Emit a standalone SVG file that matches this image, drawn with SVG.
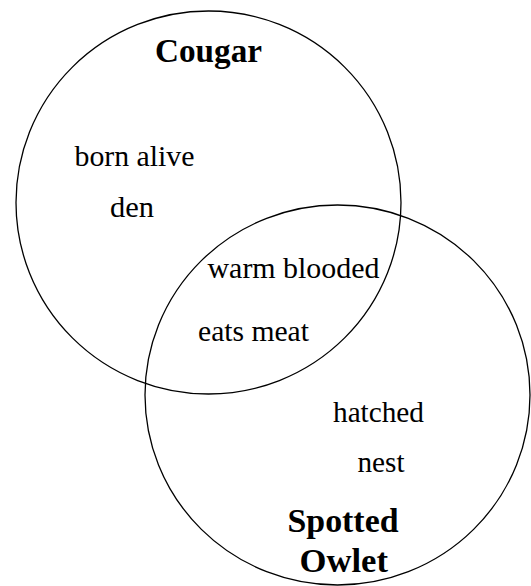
<svg xmlns="http://www.w3.org/2000/svg" width="531" height="586" viewBox="0 0 531 586">
<style>
.set{fill:none;stroke:#000;stroke-width:1.3}
.t{font-family:"Liberation Serif","Times New Roman",serif;font-size:29.5px;fill:#000}
.h{font-family:"Liberation Serif","Times New Roman",serif;font-size:33px;font-weight:bold;fill:#000}
</style>
<rect width="531" height="586" fill="#fff"/>
<g id="cougar">
<ellipse class="set" cx="208.5" cy="202.5" rx="192.5" ry="191.5"/>
<text class="h" x="155" y="62" textLength="107" lengthAdjust="spacingAndGlyphs">Cougar</text>
</g>
<g id="spotted-owlet">
<ellipse class="set" cx="337.5" cy="395" rx="192.5" ry="190"/>
<text class="h" x="287.5" y="532" textLength="111" lengthAdjust="spacingAndGlyphs">Spotted</text>
<text class="h" x="299.5" y="571.5" textLength="88.5" lengthAdjust="spacingAndGlyphs">Owlet</text>
</g>
<g id="cougar-only">
<text class="t" x="74.5" y="165.5" textLength="120" lengthAdjust="spacingAndGlyphs">born alive</text>
<text class="t" x="110" y="217" textLength="44" lengthAdjust="spacingAndGlyphs">den</text>
</g>
<g id="both">
<text class="t" x="207.5" y="278" textLength="172" lengthAdjust="spacingAndGlyphs">warm blooded</text>
<text class="t" x="198" y="341" textLength="111" lengthAdjust="spacingAndGlyphs">eats meat</text>
</g>
<g id="owlet-only">
<text class="t" x="333" y="421.5" textLength="91" lengthAdjust="spacingAndGlyphs">hatched</text>
<text class="t" x="357.5" y="471.5" textLength="47" lengthAdjust="spacingAndGlyphs">nest</text>
</g>
</svg>
